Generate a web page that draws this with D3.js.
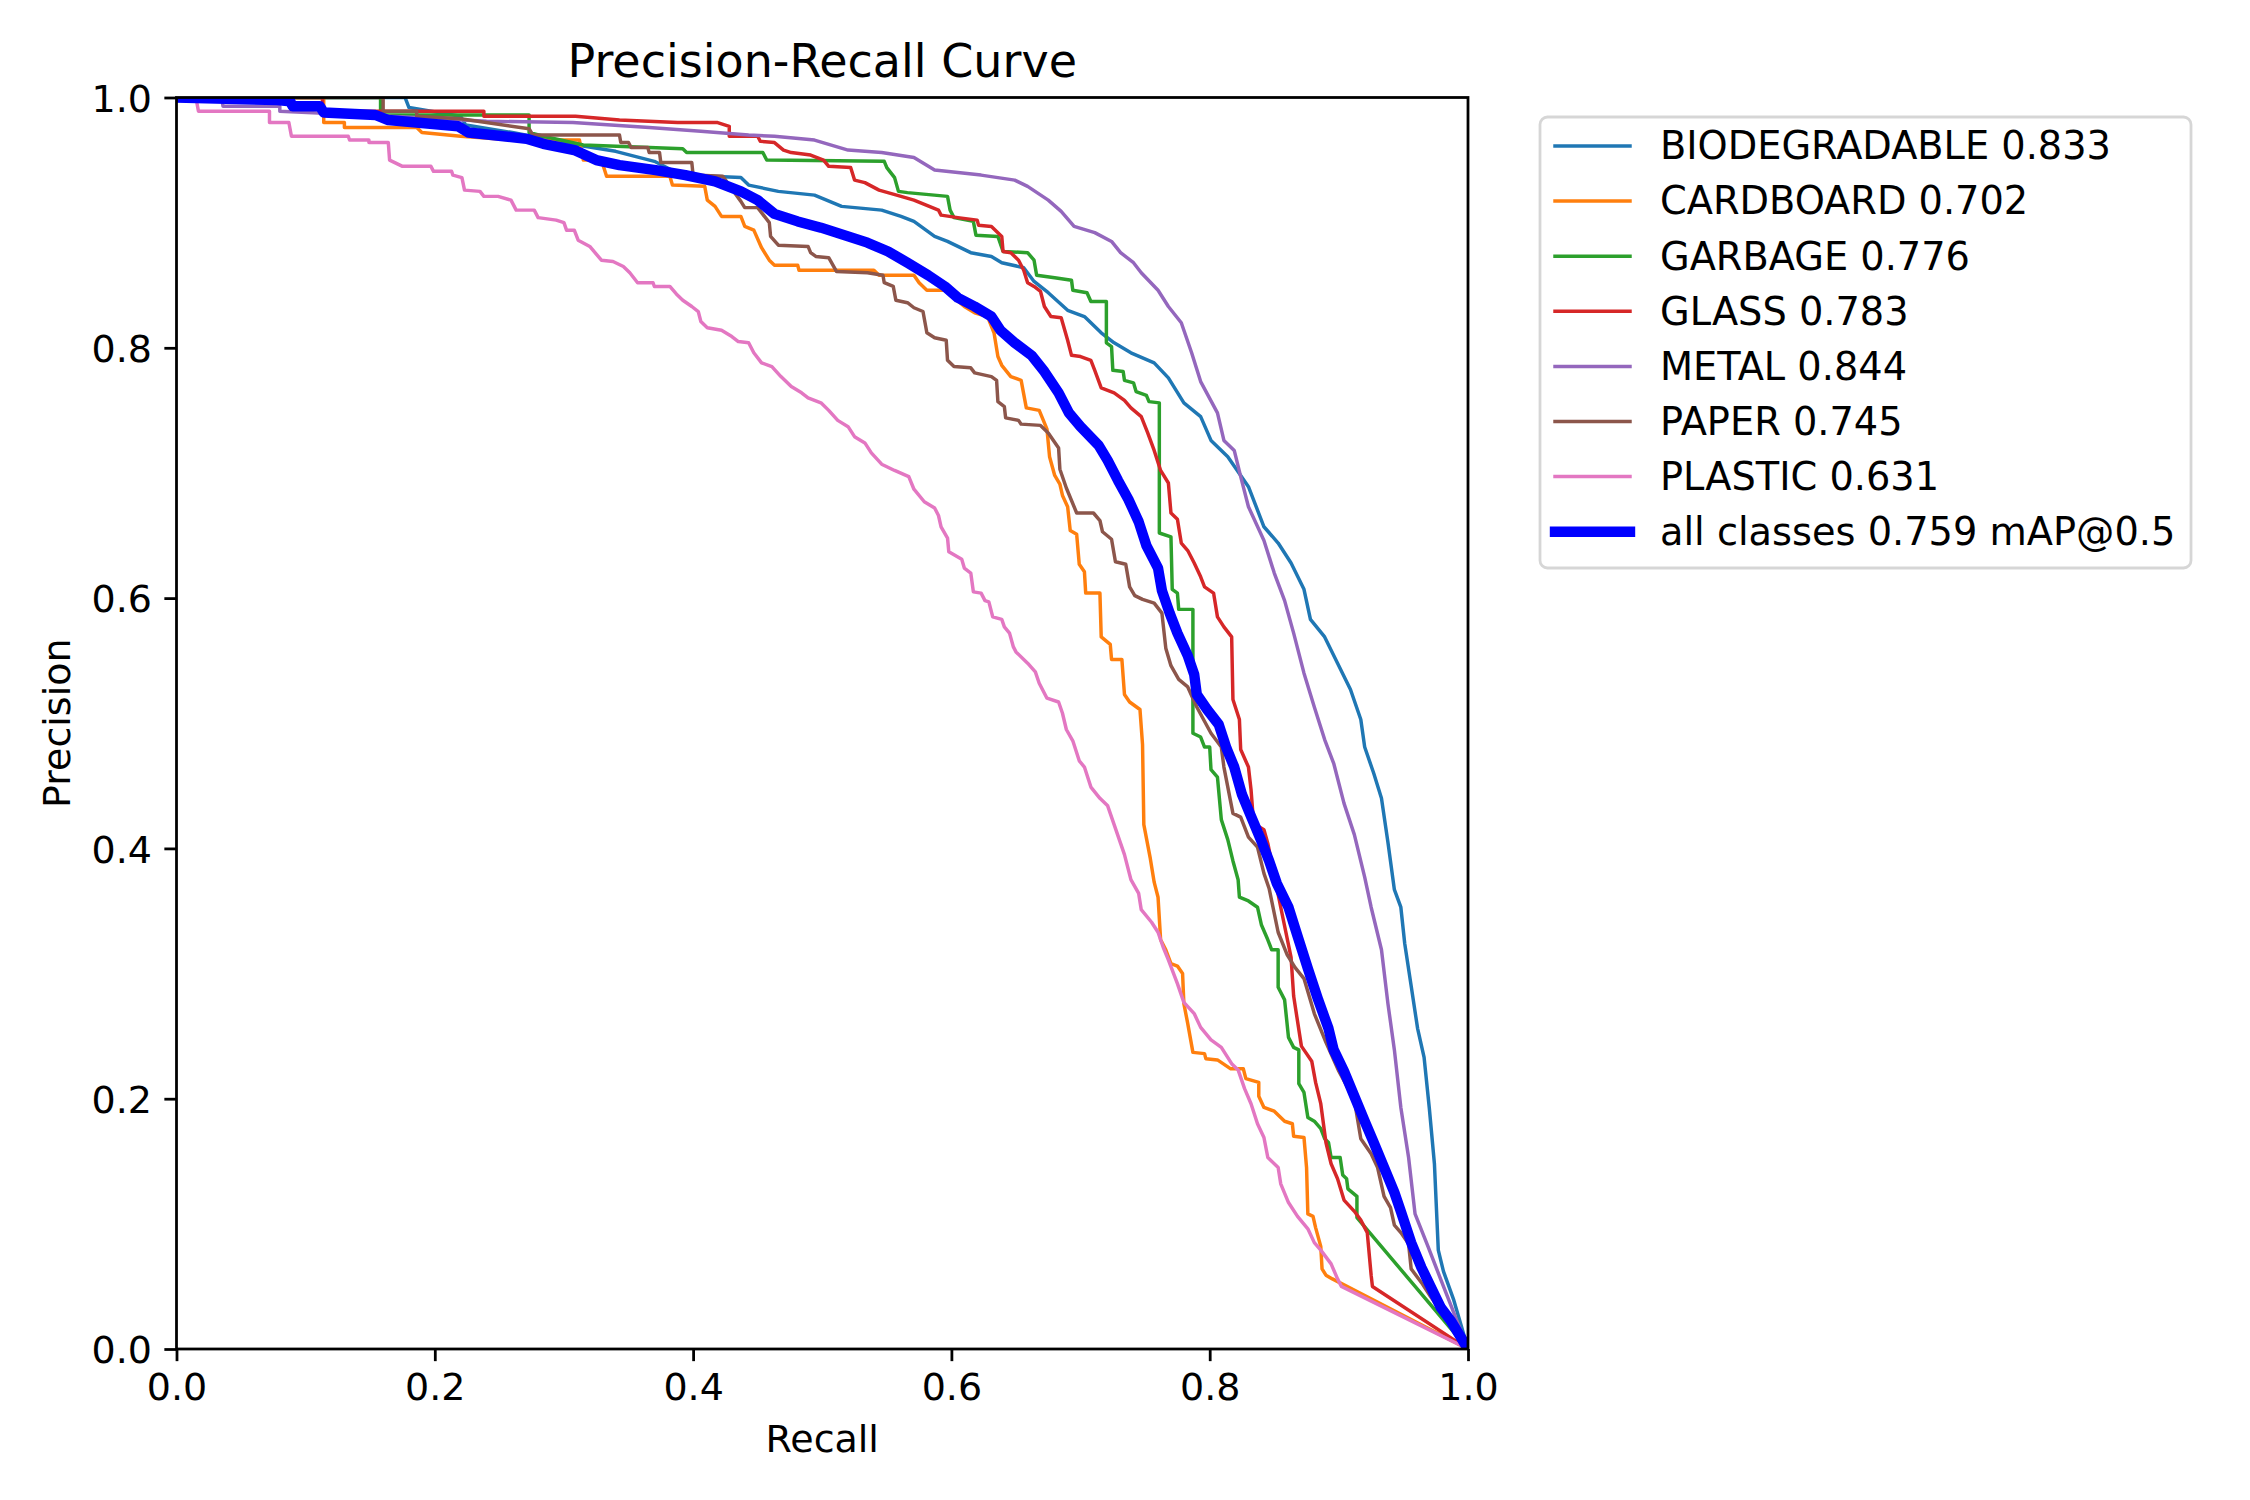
<!DOCTYPE html>
<html><head><meta charset="utf-8">
<script src="https://cdn.jsdelivr.net/npm/d3@7"></script>
<style>
html,body{margin:0;padding:0;background:#fff;}
svg text{font-family:"DejaVu Sans",sans-serif;fill:#000;}
</style></head><body>
<svg id="chart" width="2250" height="1500"></svg>
<script>
// ---------------- data ----------------
const classNames = ["BIODEGRADABLE", "CARDBOARD", "GARBAGE", "GLASS", "METAL", "PAPER", "PLASTIC"];
const apValues = [0.833, 0.702, 0.776, 0.783, 0.844, 0.745, 0.631];
const allClassesMAP = 0.759;
const tickValues = [0, 0.2, 0.4, 0.6, 0.8, 1.0];
const titleText = "Precision-Recall Curve";
const xLabelText = "Recall";
const yLabelText = "Precision";

// [recall, precision]
const biodegradable = [[0,1],[0.177,1.0],[0.18,0.992],[0.22,0.985],[0.224,0.978],[0.26,0.972],[0.31,0.962],[0.34,0.957],[0.37,0.949],[0.391,0.938],[0.437,0.936],[0.443,0.930],[0.466,0.925],[0.494,0.922],[0.515,0.913],[0.546,0.910],[0.561,0.905],[0.571,0.901],[0.587,0.889],[0.597,0.885],[0.615,0.876],[0.631,0.873],[0.639,0.868],[0.656,0.864],[0.664,0.853],[0.675,0.844],[0.690,0.830],[0.703,0.825],[0.716,0.812],[0.726,0.804],[0.739,0.796],[0.757,0.788],[0.768,0.776],[0.780,0.756],[0.793,0.745],[0.801,0.726],[0.814,0.713],[0.830,0.689],[0.842,0.657],[0.853,0.644],[0.863,0.628],[0.873,0.607],[0.878,0.583],[0.889,0.569],[0.899,0.548],[0.909,0.527],[0.917,0.503],[0.920,0.481],[0.927,0.460],[0.933,0.440],[0.938,0.405],[0.943,0.367],[0.948,0.353],[0.951,0.324],[0.956,0.290],[0.961,0.256],[0.966,0.233],[0.970,0.193],[0.974,0.148],[0.977,0.079],[0.981,0.062],[0.989,0.039],[1.0,0.0]];

const cardboard = [[0,1],[0.114,1.0],[0.114,0.980],[0.130,0.980],[0.130,0.976],[0.186,0.976],[0.19,0.972],[0.22,0.969],[0.26,0.966],[0.312,0.966],[0.315,0.950],[0.329,0.950],[0.333,0.937],[0.382,0.937],[0.384,0.930],[0.409,0.929],[0.411,0.918],[0.417,0.913],[0.422,0.905],[0.437,0.905],[0.440,0.897],[0.447,0.894],[0.453,0.880],[0.459,0.870],[0.463,0.866],[0.481,0.866],[0.482,0.862],[0.540,0.862],[0.544,0.858],[0.571,0.858],[0.575,0.852],[0.581,0.846],[0.595,0.846],[0.610,0.833],[0.618,0.828],[0.628,0.825],[0.633,0.812],[0.636,0.793],[0.639,0.786],[0.646,0.777],[0.654,0.774],[0.658,0.752],[0.668,0.750],[0.674,0.735],[0.676,0.713],[0.680,0.698],[0.684,0.691],[0.686,0.682],[0.690,0.673],[0.692,0.654],[0.697,0.651],[0.699,0.627],[0.703,0.621],[0.704,0.604],[0.715,0.604],[0.716,0.569],[0.723,0.563],[0.724,0.551],[0.732,0.551],[0.734,0.523],[0.738,0.517],[0.746,0.511],[0.748,0.483],[0.749,0.419],[0.754,0.392],[0.757,0.373],[0.760,0.361],[0.762,0.327],[0.766,0.319],[0.770,0.308],[0.775,0.306],[0.779,0.300],[0.780,0.276],[0.783,0.260],[0.787,0.237],[0.796,0.236],[0.797,0.232],[0.806,0.231],[0.816,0.224],[0.826,0.224],[0.828,0.216],[0.838,0.213],[0.838,0.202],[0.842,0.193],[0.850,0.190],[0.858,0.182],[0.864,0.180],[0.865,0.170],[0.873,0.169],[0.875,0.145],[0.876,0.108],[0.880,0.106],[0.882,0.097],[0.886,0.082],[0.887,0.064],[0.890,0.059],[0.895,0.056],[1.0,0.0]];

const garbage = [[0,1],[0.158,1.0],[0.158,0.986],[0.273,0.986],[0.273,0.972],[0.284,0.969],[0.315,0.962],[0.392,0.959],[0.395,0.956],[0.454,0.956],[0.457,0.950],[0.548,0.949],[0.550,0.944],[0.556,0.936],[0.559,0.925],[0.566,0.924],[0.597,0.921],[0.599,0.910],[0.602,0.904],[0.617,0.901],[0.619,0.890],[0.636,0.889],[0.640,0.877],[0.659,0.876],[0.664,0.870],[0.666,0.858],[0.680,0.856],[0.693,0.854],[0.694,0.846],[0.705,0.844],[0.708,0.837],[0.720,0.837],[0.720,0.804],[0.724,0.801],[0.725,0.782],[0.733,0.781],[0.734,0.774],[0.741,0.772],[0.743,0.765],[0.751,0.762],[0.753,0.757],[0.761,0.756],[0.761,0.652],[0.770,0.649],[0.771,0.607],[0.775,0.604],[0.776,0.591],[0.787,0.591],[0.787,0.492],[0.793,0.489],[0.796,0.481],[0.800,0.481],[0.801,0.463],[0.806,0.457],[0.809,0.423],[0.814,0.407],[0.818,0.390],[0.822,0.375],[0.823,0.361],[0.830,0.358],[0.837,0.353],[0.840,0.339],[0.845,0.327],[0.848,0.319],[0.853,0.319],[0.853,0.289],[0.858,0.279],[0.861,0.249],[0.865,0.241],[0.869,0.239],[0.869,0.212],[0.873,0.205],[0.876,0.185],[0.881,0.182],[0.886,0.176],[0.889,0.168],[0.892,0.165],[0.894,0.153],[0.901,0.153],[0.903,0.139],[0.906,0.136],[0.907,0.128],[0.914,0.122],[0.914,0.105],[1.0,0.0]];

const glass = [[0,1],[0.113,1.0],[0.113,0.989],[0.238,0.989],[0.238,0.985],[0.309,0.985],[0.343,0.982],[0.388,0.980],[0.419,0.980],[0.428,0.977],[0.428,0.969],[0.450,0.969],[0.452,0.965],[0.463,0.964],[0.470,0.958],[0.476,0.956],[0.491,0.954],[0.501,0.950],[0.505,0.945],[0.522,0.944],[0.525,0.934],[0.533,0.932],[0.544,0.926],[0.561,0.921],[0.571,0.918],[0.590,0.910],[0.592,0.906],[0.605,0.904],[0.620,0.902],[0.621,0.898],[0.631,0.897],[0.639,0.889],[0.640,0.877],[0.646,0.876],[0.652,0.870],[0.656,0.862],[0.659,0.852],[0.664,0.849],[0.669,0.845],[0.672,0.833],[0.677,0.825],[0.685,0.824],[0.690,0.806],[0.693,0.794],[0.700,0.793],[0.708,0.790],[0.711,0.782],[0.716,0.768],[0.726,0.764],[0.734,0.758],[0.739,0.752],[0.747,0.745],[0.752,0.732],[0.757,0.718],[0.762,0.702],[0.768,0.692],[0.770,0.668],[0.775,0.663],[0.778,0.644],[0.783,0.638],[0.788,0.628],[0.793,0.617],[0.796,0.609],[0.803,0.604],[0.806,0.585],[0.811,0.577],[0.817,0.569],[0.818,0.519],[0.823,0.503],[0.824,0.479],[0.830,0.465],[0.832,0.447],[0.834,0.420],[0.842,0.415],[0.845,0.404],[0.855,0.353],[0.863,0.313],[0.865,0.282],[0.871,0.242],[0.879,0.230],[0.882,0.213],[0.886,0.196],[0.890,0.165],[0.894,0.148],[0.899,0.136],[0.904,0.119],[0.912,0.110],[0.917,0.103],[0.922,0.093],[0.925,0.059],[0.926,0.050],[1.0,0.0]];

const metal = [[0,1],[0.035,1.0],[0.036,0.993],[0.08,0.993],[0.08,0.989],[0.186,0.984],[0.24,0.981],[0.307,0.980],[0.366,0.976],[0.406,0.973],[0.443,0.970],[0.463,0.969],[0.494,0.966],[0.520,0.958],[0.546,0.956],[0.571,0.952],[0.587,0.942],[0.623,0.938],[0.649,0.934],[0.659,0.929],[0.675,0.918],[0.685,0.909],[0.695,0.897],[0.711,0.892],[0.724,0.885],[0.731,0.876],[0.741,0.868],[0.747,0.860],[0.760,0.846],[0.768,0.833],[0.778,0.820],[0.786,0.796],[0.793,0.773],[0.806,0.748],[0.811,0.726],[0.819,0.718],[0.824,0.697],[0.830,0.673],[0.842,0.646],[0.850,0.620],[0.858,0.598],[0.865,0.572],[0.873,0.540],[0.881,0.513],[0.889,0.487],[0.896,0.468],[0.904,0.436],[0.912,0.411],[0.920,0.377],[0.925,0.353],[0.933,0.319],[0.938,0.276],[0.943,0.239],[0.948,0.193],[0.954,0.153],[0.959,0.108],[0.969,0.082],[0.981,0.050],[1.0,0.0]];

const paper = [[0,1],[0.160,1.0],[0.160,0.989],[0.186,0.989],[0.186,0.985],[0.22,0.983],[0.273,0.975],[0.276,0.970],[0.343,0.970],[0.344,0.964],[0.350,0.964],[0.352,0.960],[0.365,0.960],[0.366,0.956],[0.374,0.956],[0.375,0.948],[0.399,0.948],[0.400,0.938],[0.423,0.937],[0.437,0.917],[0.440,0.912],[0.450,0.912],[0.453,0.908],[0.459,0.900],[0.460,0.889],[0.466,0.882],[0.489,0.881],[0.491,0.876],[0.495,0.873],[0.505,0.872],[0.511,0.861],[0.535,0.860],[0.547,0.858],[0.548,0.852],[0.555,0.849],[0.557,0.838],[0.566,0.836],[0.571,0.832],[0.578,0.829],[0.581,0.812],[0.587,0.808],[0.596,0.806],[0.597,0.790],[0.602,0.785],[0.615,0.784],[0.618,0.780],[0.631,0.777],[0.635,0.774],[0.636,0.757],[0.641,0.753],[0.642,0.744],[0.652,0.742],[0.654,0.739],[0.669,0.738],[0.675,0.732],[0.683,0.720],[0.684,0.703],[0.689,0.688],[0.697,0.668],[0.710,0.668],[0.715,0.662],[0.717,0.653],[0.724,0.647],[0.727,0.629],[0.735,0.627],[0.738,0.609],[0.742,0.602],[0.748,0.599],[0.757,0.596],[0.763,0.588],[0.766,0.560],[0.770,0.546],[0.776,0.535],[0.783,0.529],[0.790,0.513],[0.801,0.492],[0.809,0.481],[0.811,0.465],[0.818,0.428],[0.824,0.425],[0.830,0.409],[0.837,0.401],[0.842,0.380],[0.846,0.368],[0.853,0.333],[0.860,0.315],[0.866,0.305],[0.873,0.296],[0.881,0.268],[0.890,0.245],[0.900,0.222],[0.912,0.199],[0.917,0.168],[0.925,0.156],[0.930,0.145],[0.935,0.122],[0.940,0.113],[0.943,0.099],[0.948,0.093],[0.954,0.084],[0.956,0.064],[0.964,0.053],[0.971,0.042],[1.0,0.0]];

const plastic = [[0,1],[0.015,1.0],[0.017,0.989],[0.072,0.989],[0.072,0.980],[0.087,0.980],[0.089,0.969],[0.133,0.969],[0.134,0.966],[0.149,0.966],[0.149,0.964],[0.164,0.964],[0.165,0.950],[0.169,0.948],[0.175,0.945],[0.197,0.945],[0.199,0.941],[0.213,0.941],[0.214,0.938],[0.221,0.936],[0.223,0.926],[0.235,0.925],[0.238,0.921],[0.249,0.921],[0.259,0.918],[0.263,0.910],[0.277,0.910],[0.280,0.904],[0.294,0.902],[0.300,0.900],[0.302,0.894],[0.308,0.894],[0.311,0.886],[0.320,0.881],[0.329,0.870],[0.338,0.869],[0.346,0.865],[0.351,0.860],[0.357,0.852],[0.369,0.852],[0.370,0.849],[0.382,0.849],[0.387,0.843],[0.392,0.838],[0.399,0.833],[0.404,0.829],[0.406,0.821],[0.411,0.816],[0.422,0.814],[0.430,0.809],[0.435,0.805],[0.443,0.804],[0.447,0.796],[0.453,0.788],[0.461,0.785],[0.468,0.777],[0.476,0.769],[0.484,0.764],[0.489,0.760],[0.499,0.756],[0.505,0.750],[0.512,0.742],[0.520,0.737],[0.525,0.729],[0.533,0.724],[0.538,0.716],[0.546,0.707],[0.556,0.702],[0.567,0.697],[0.571,0.687],[0.579,0.677],[0.587,0.672],[0.590,0.666],[0.592,0.657],[0.597,0.648],[0.598,0.637],[0.608,0.631],[0.610,0.624],[0.615,0.620],[0.617,0.605],[0.623,0.604],[0.626,0.598],[0.629,0.597],[0.632,0.585],[0.639,0.583],[0.641,0.577],[0.645,0.572],[0.648,0.561],[0.650,0.557],[0.659,0.548],[0.665,0.541],[0.668,0.532],[0.674,0.520],[0.683,0.517],[0.686,0.508],[0.689,0.495],[0.694,0.486],[0.699,0.470],[0.703,0.465],[0.708,0.449],[0.715,0.440],[0.721,0.434],[0.726,0.419],[0.731,0.404],[0.734,0.395],[0.739,0.375],[0.745,0.364],[0.747,0.351],[0.755,0.341],[0.760,0.333],[0.764,0.321],[0.768,0.311],[0.775,0.292],[0.780,0.277],[0.788,0.268],[0.793,0.257],[0.801,0.247],[0.809,0.241],[0.817,0.228],[0.822,0.223],[0.827,0.208],[0.832,0.196],[0.837,0.180],[0.842,0.169],[0.845,0.153],[0.853,0.145],[0.855,0.132],[0.861,0.117],[0.868,0.106],[0.876,0.096],[0.881,0.085],[0.886,0.079],[0.894,0.068],[0.899,0.056],[0.902,0.050],[1.0,0.0]];

const allClasses = [[0,1],[0.078,0.998],[0.088,0.997],[0.090,0.993],[0.111,0.993],[0.114,0.988],[0.154,0.986],[0.164,0.982],[0.218,0.977],[0.226,0.972],[0.271,0.967],[0.284,0.963],[0.308,0.958],[0.325,0.950],[0.343,0.946],[0.371,0.942],[0.394,0.938],[0.417,0.933],[0.437,0.925],[0.450,0.918],[0.463,0.907],[0.481,0.901],[0.499,0.896],[0.520,0.889],[0.535,0.884],[0.551,0.877],[0.566,0.868],[0.582,0.858],[0.595,0.849],[0.605,0.840],[0.618,0.833],[0.631,0.825],[0.638,0.814],[0.649,0.804],[0.662,0.794],[0.672,0.781],[0.683,0.764],[0.691,0.748],[0.700,0.737],[0.714,0.722],[0.721,0.710],[0.729,0.694],[0.737,0.679],[0.745,0.661],[0.751,0.642],[0.760,0.624],[0.763,0.606],[0.769,0.588],[0.775,0.572],[0.783,0.554],[0.788,0.539],[0.790,0.523],[0.798,0.511],[0.807,0.499],[0.813,0.480],[0.819,0.465],[0.825,0.443],[0.831,0.428],[0.840,0.406],[0.846,0.390],[0.852,0.372],[0.861,0.353],[0.868,0.330],[0.876,0.304],[0.884,0.279],[0.892,0.256],[0.896,0.239],[0.904,0.222],[0.912,0.202],[0.920,0.182],[0.927,0.165],[0.935,0.145],[0.943,0.125],[0.948,0.110],[0.956,0.085],[0.964,0.065],[0.971,0.050],[0.979,0.033],[0.987,0.022],[0.997,0.005],[1.0,0.0]];

const classSeries = [biodegradable, cardboard, garbage, glass, metal, paper, plastic];
const seriesColors = ["#1f77b4", "#ff7f0e", "#2ca02c", "#d62728", "#9467bd", "#8c564b", "#e377c2"];
const allColor = "#0000ff";

// ---------------- drawing ----------------
const svg = d3.select("#chart");
svg.append("rect").attr("width", 2250).attr("height", 1500).attr("fill", "#fff");

const plot = {left: 176.5, right: 1468, top: 97.5, bottom: 1349};
const x = d3.scaleLinear().domain([0, 1]).range([plot.left, plot.right]);
const y = d3.scaleLinear().domain([0, 1]).range([plot.bottom, plot.top]);
const fontSize = 38;
const legendFont = 38.3;
const spineW = 2.78;

svg.append("defs").append("clipPath").attr("id", "plotclip")
  .append("rect").attr("x", plot.left).attr("y", plot.top)
  .attr("width", plot.right - plot.left).attr("height", plot.bottom - plot.top);

const line = d3.line().x(d => x(d[0])).y(d => y(d[1]));
const gLines = svg.append("g").attr("clip-path", "url(#plotclip)");
classSeries.forEach((s, i) => {
  gLines.append("path").datum(s).attr("d", line)
    .attr("fill", "none").attr("stroke", seriesColors[i])
    .attr("stroke-width", 3.47).attr("stroke-linejoin", "round").attr("stroke-linecap", "square");
});
gLines.append("path").datum(allClasses).attr("d", line)
  .attr("fill", "none").attr("stroke", allColor)
  .attr("stroke-width", 10.4).attr("stroke-linejoin", "round").attr("stroke-linecap", "square");

// axes
const fmt = d3.format(".1f");
const xAxis = d3.axisBottom(x).tickValues(tickValues).tickFormat(fmt).tickSizeInner(12.15).tickSizeOuter(0).tickPadding(12.2);
const yAxis = d3.axisLeft(y).tickValues(tickValues).tickFormat(fmt).tickSizeInner(12.15).tickSizeOuter(0).tickPadding(12.35);

const gx = svg.append("g").attr("transform", `translate(0,${plot.bottom})`).call(xAxis);
const gy = svg.append("g").attr("transform", `translate(${plot.left},0)`).call(yAxis);
[gx, gy].forEach(g => {
  g.select(".domain").remove();
  g.selectAll(".tick line").attr("stroke", "#000").attr("stroke-width", spineW);
  g.selectAll(".tick text").attr("font-size", fontSize).attr("font-family", "DejaVu Sans").attr("fill", "#000");
});
gy.selectAll(".tick text").attr("dy", "0.36em");

// spines
svg.append("rect").attr("x", plot.left).attr("y", plot.top)
  .attr("width", plot.right - plot.left).attr("height", plot.bottom - plot.top)
  .attr("fill", "none").attr("stroke", "#000").attr("stroke-width", spineW);

// titles
const cx = (plot.left + plot.right) / 2;
svg.append("text").attr("x", cx).attr("y", 77).attr("text-anchor", "middle")
  .attr("font-size", 46).text(titleText);
svg.append("text").attr("x", cx).attr("y", 1452).attr("text-anchor", "middle")
  .attr("font-size", fontSize).text(xLabelText);
svg.append("text").attr("transform", `translate(70,${(plot.top + plot.bottom) / 2}) rotate(-90)`)
  .attr("text-anchor", "middle").attr("font-size", fontSize).text(yLabelText);

// legend
const legend = svg.append("g");
legend.append("rect").attr("x", 1540).attr("y", 117).attr("width", 651).attr("height", 451)
  .attr("rx", 7.5).attr("ry", 7.5)
  .attr("fill", "#fff").attr("fill-opacity", 0.8)
  .attr("stroke", "#cccccc").attr("stroke-opacity", 0.8).attr("stroke-width", spineW);

const legendItems = classNames.map((n, i) => ({label: `${n} ${apValues[i].toFixed(3)}`, color: seriesColors[i], w: 3.47}))
  .concat([{label: `all classes ${allClassesMAP.toFixed(3)} mAP@0.5`, color: allColor, w: 10.4}]);
legendItems.forEach((d, i) => {
  const base = 159.3 + i * 55.1;
  legend.append("line").attr("x1", 1555).attr("x2", 1630)
    .attr("y1", base - 13.3).attr("y2", base - 13.3)
    .attr("stroke", d.color).attr("stroke-width", d.w).attr("stroke-linecap", "square");
  legend.append("text").attr("x", 1660).attr("y", base)
    .attr("font-size", legendFont).text(d.label);
});
</script>
</body></html>
